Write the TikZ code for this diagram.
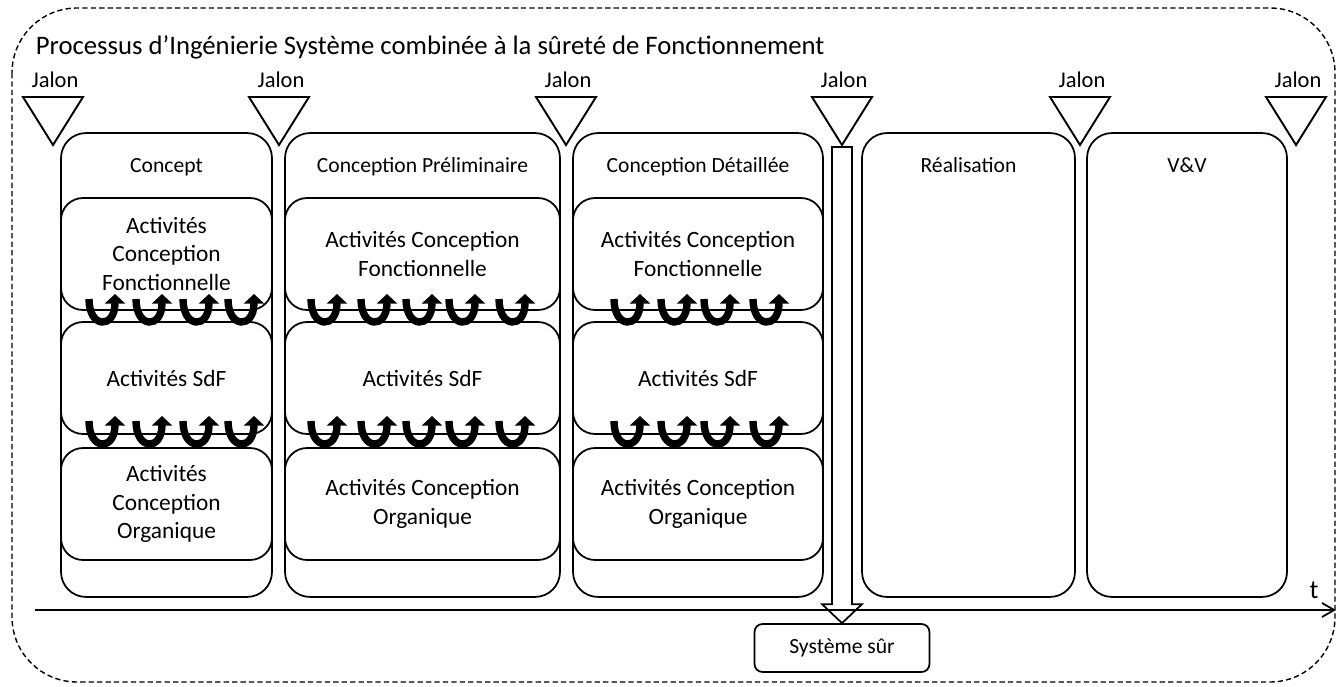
\documentclass[tikz,border=0pt]{standalone}
\usepackage{fontspec}
\setmainfont{Carlito}
\usetikzlibrary{arrows.meta,calc,positioning}

\begin{document}
\begin{tikzpicture}
  [x=0.02cm, y=-0.02cm, line width=1pt,
    phase/.style={
      draw, rounded corners=0.5cm, minimum height=9.28cm
    },
    activite/.style={
      draw, rounded corners=0.44cm, minimum height=2.24cm,
      align=center, font=\fontsize{13.3}{16.4}\selectfont
    },
    titre/.style={anchor=base, font=\fontsize{12.3}{15}\selectfont},
    jalon/.style={draw, line width=1.1pt, line join=miter},
    boucle/.style={line width=4.2pt, -{Triangle[width=11.5pt, length=5.5pt]}},
  ]
  \useasboundingbox (0,0) rectangle (1338,686);

  % Cadre du processus
  \draw[dashed, dash pattern=on 3pt off 1.8pt, line width=0.8pt,
    rounded corners=1.3cm] (12,8) rectangle (1335,682);
  \node[anchor=base west, inner sep=0, font=\fontsize{15.2}{18}\selectfont]
    (titre) at (35,55) {Processus d’Ingénierie Système combinée à la sûreté de Fonctionnement};

  % Phases
  \node[phase, minimum width=4.22cm] (c1) at (166.5,365) {};
  \node[phase, minimum width=5.5cm] (c2) at (422.5,365) {};
  \node[phase, minimum width=5.0cm] (c3) at (698,365) {};
  \node[phase, minimum width=4.26cm] (c4) at (968.5,365) {};
  \node[phase, minimum width=4.0cm] (c5) at (1187,365) {};

  \node[titre] (t1) at (166.5,172) {Concept};
  \node[titre] (t2) at (422.5,172) {Conception Préliminaire};
  \node[titre] (t3) at (698,172) {Conception Détaillée};
  \node[titre] (t4) at (968.5,172) {Réalisation};
  \node[titre] (t5) at (1187,172) {V\&V};

  % Activites
  \node[activite, minimum width=4.22cm] (a1f) at (166.5,254) {Activités\\Conception\\Fonctionnelle};
  \node[activite, minimum width=4.22cm] (a1s) at (166.5,378) {Activités SdF};
  \node[activite, minimum width=4.22cm] (a1o) at (166.5,504) {Activités\\Conception\\Organique};

  \node[activite, minimum width=5.5cm] (a2f) at (422.5,254) {Activités Conception\\Fonctionnelle};
  \node[activite, minimum width=5.5cm] (a2s) at (422.5,378) {Activités SdF};
  \node[activite, minimum width=5.5cm] (a2o) at (422.5,504) {Activités Conception\\Organique};

  \node[activite, minimum width=5.0cm] (a3f) at (698,254) {Activités Conception\\Fonctionnelle};
  \node[activite, minimum width=5.0cm] (a3s) at (698,378) {Activités SdF};
  \node[activite, minimum width=5.0cm] (a3o) at (698,504) {Activités Conception\\Organique};

  % Boucles entre activites
  \foreach \x in {102,149,196,241,324,374,419,462,512,627,674,717,766}
    \foreach \y in {327,449}
      \draw[boucle] (\x-13,\y-28) .. controls (\x-13,\y+2) and (\x+13,\y+2) .. (\x+13,\y-33);

  % Jalons
  \foreach \n/\x in {1/53,2/279,3/566,4/842,5/1080,6/1296} {
    \coordinate (j\n) at (\x,145);
    \draw[jalon] (j\n) -- ++(-30,-48) -- ++(60,0) -- cycle;
    \node[titre, font=\fontsize{12.8}{15}\selectfont] (lj\n) at (\x+2,88) {Jalon};
  }

  % Systeme sur
  \node[draw, rounded corners=0.16cm, minimum width=3.5cm, minimum height=0.96cm,
    font=\fontsize{12.3}{15}\selectfont] (sur) at (842,648) {Système sûr};
  \draw[fill=white, line join=miter]
    ($(j4)+(-10,2)$) -- ($(j4)+(10,2)$) -- ($(sur.north)+(10,-19)$)
    -- ($(sur.north)+(20,-19)$) -- (sur.north) -- ($(sur.north)+(-20,-19)$)
    -- ($(sur.north)+(-10,-19)$) -- cycle;

  % Axe du temps
  \coordinate (t0) at (35,610);
  \coordinate (t1) at (1336,610);
  \draw[-{Straight Barb[length=7pt, width=8pt]}] (t0) -- (t1);
  \node[font=\fontsize{15}{18}\selectfont] (tt) at (1314,590) {t};
\end{tikzpicture}
\end{document}
